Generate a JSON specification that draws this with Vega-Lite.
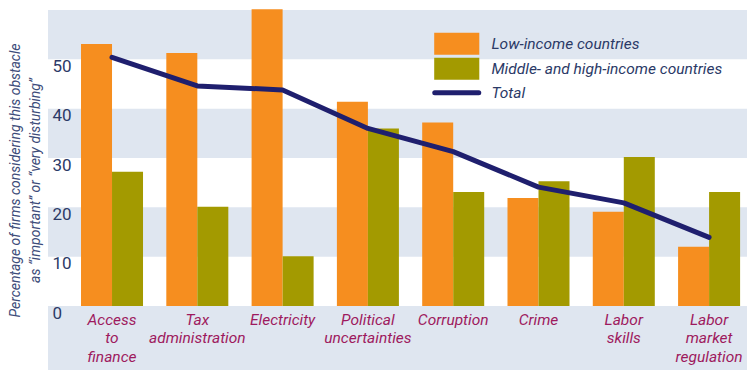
{
  "$schema": "https://vega.github.io/schema/vega-lite/v6.json",
  "width": 699,
  "height": 360,
  "autosize": {"type": "none"},
  "padding": {"left": 48, "top": 10, "right": 0, "bottom": 0},
  "background": "white",
  "config": {
    "view": {"fill": "#DFE6F0", "stroke": null},
    "font": "Roboto",
    "axisY": {"labelOverlap": false}
  },
  "datasets": {
    "bands": [
      {"lo": 0, "hi": 10},
      {"lo": 20, "hi": 30},
      {"lo": 40, "hi": 50}
    ],
    "main": [
      {"cat": "Access to finance", "group": "Low-income countries", "value": 53.1},
      {"cat": "Access to finance", "group": "Middle- and high-income countries", "value": 27.2},
      {"cat": "Access to finance", "group": "Total", "value": 50.4},
      {"cat": "Tax administration", "group": "Low-income countries", "value": 51.3},
      {"cat": "Tax administration", "group": "Middle- and high-income countries", "value": 20.1},
      {"cat": "Tax administration", "group": "Total", "value": 44.6},
      {"cat": "Electricity", "group": "Low-income countries", "value": 60.15},
      {"cat": "Electricity", "group": "Middle- and high-income countries", "value": 10.1},
      {"cat": "Electricity", "group": "Total", "value": 43.8},
      {"cat": "Political uncertainties", "group": "Low-income countries", "value": 41.4},
      {"cat": "Political uncertainties", "group": "Middle- and high-income countries", "value": 36.0},
      {"cat": "Political uncertainties", "group": "Total", "value": 36.0},
      {"cat": "Corruption", "group": "Low-income countries", "value": 37.2},
      {"cat": "Corruption", "group": "Middle- and high-income countries", "value": 23.1},
      {"cat": "Corruption", "group": "Total", "value": 31.3},
      {"cat": "Crime", "group": "Low-income countries", "value": 21.9},
      {"cat": "Crime", "group": "Middle- and high-income countries", "value": 25.3},
      {"cat": "Crime", "group": "Total", "value": 24.1},
      {"cat": "Labor skills", "group": "Low-income countries", "value": 19.1},
      {"cat": "Labor skills", "group": "Middle- and high-income countries", "value": 30.2},
      {"cat": "Labor skills", "group": "Total", "value": 20.9},
      {"cat": "Labor market regulation", "group": "Low-income countries", "value": 12.0},
      {"cat": "Labor market regulation", "group": "Middle- and high-income countries", "value": 23.1},
      {"cat": "Labor market regulation", "group": "Total", "value": 13.9}
    ]
  },
  "layer": [
    {
      "data": {"name": "bands"},
      "mark": {"type": "rect", "fill": "white"},
      "encoding": {
        "x": {"value": 0},
        "x2": {"value": "width"},
        "y": {
          "field": "lo",
          "type": "quantitative",
          "scale": {"domain": [-12.97, 60], "nice": false, "zero": false},
          "axis": {
            "title": ["Percentage of firms considering this obstacle", "as “important” or “very disturbing”"],
            "values": [0, 10, 20, 30, 40, 50],
            "zindex": 2,
            "labelOverlap": false,
            "domain": false,
            "ticks": false,
            "grid": false,
            "labelAlign": "left",
            "labelPadding": -4,
            "labelOffset": 7,
            "labelBaseline": "middle",
            "labelFontSize": 17,
            "labelColor": "#2B3A67",
            "titleFontStyle": "italic",
            "titleFontWeight": "normal",
            "titleFontSize": 14,
            "titleColor": "#3D4C7A",
            "titleLineHeight": 20,
            "titleAngle": -90,
            "titleAlign": "center",
            "titleBaseline": "middle",
            "titleX": -33,
            "titleY": 170
          }
        },
        "y2": {"field": "hi"}
      }
    },
    {
      "data": {"name": "main"},
      "transform": [{"filter": "datum.group !== 'Total'"}],
      "mark": {"type": "bar"},
      "encoding": {
        "x": {
          "field": "cat",
          "type": "nominal",
          "sort": ["Access to finance", "Tax administration", "Electricity", "Political uncertainties", "Corruption", "Crime", "Labor skills", "Labor market regulation"],
          "scale": {"paddingInner": 0.273, "paddingOuter": 0.234, "align": 0.827},
          "axis": {
            "title": null,
            "orient": "bottom",
            "offset": -64,
            "zindex": 2,
            "domain": false,
            "ticks": false,
            "grid": false,
            "labelAngle": 0,
            "labelPadding": 6,
            "labelBaseline": "top",
            "labelLineHeight": 18.5,
            "labelFontSize": 15.5,
            "labelFontStyle": "italic",
            "labelColor": "#9E1A5E",
            "labelLimit": 0,
            "labelExpr": "split(datum.value, ' ')"
          }
        },
        "xOffset": {
          "field": "group",
          "sort": ["Low-income countries", "Middle- and high-income countries"],
          "scale": {"paddingInner": 0, "paddingOuter": 0}
        },
        "y": {"field": "value", "type": "quantitative"},
        "y2": {"datum": 0},
        "color": {
          "field": "group",
          "type": "nominal",
          "scale": {
            "domain": ["Low-income countries", "Middle- and high-income countries", "Total"],
            "range": ["#F68E1F", "#A39A00", "#1F1F6E"]
          },
          "legend": {
            "orient": "none",
            "legendX": 401,
            "legendY": 26,
            "title": null,
            "padding": 0,
            "symbolSize": 484,
            "labelFontSize": 15.5,
            "labelFontStyle": "italic",
            "labelColor": "#2B3A67",
            "labelOffset": 27,
            "rowPadding": 2,
            "labelLimit": 0,
            "encode": {
              "symbols": {
                "update": {
                  "shape": {"signal": "datum.value === 'Total' ? 'M-2,0H2' : 'M-2.05,-1H2.05V1H-2.05Z'"},
                  "strokeWidth": {"signal": "datum.value === 'Total' ? 5 : 0"},
                  "fill": {"signal": "datum.value === 'Total' ? 'transparent' : scale('color', datum.value)"},
                  "stroke": {"signal": "scale('color', datum.value)"},
                  "strokeCap": {"value": "round"},
                  "opacity": {"value": 1},
                  "fillOpacity": {"value": 1},
                  "strokeOpacity": {"value": 1}
                }
              }
            }
          }
        }
      }
    },
    {
      "data": {"name": "main"},
      "transform": [{"filter": "datum.group === 'Total'"}],
      "mark": {"type": "line", "strokeWidth": 5, "strokeCap": "round", "strokeJoin": "round"},
      "encoding": {
        "x": {
          "field": "cat",
          "type": "nominal",
          "sort": ["Access to finance", "Tax administration", "Electricity", "Political uncertainties", "Corruption", "Crime", "Labor skills", "Labor market regulation"]
        },
        "y": {"field": "value", "type": "quantitative"},
        "color": {"field": "group", "type": "nominal"}
      }
    }
  ]
}
